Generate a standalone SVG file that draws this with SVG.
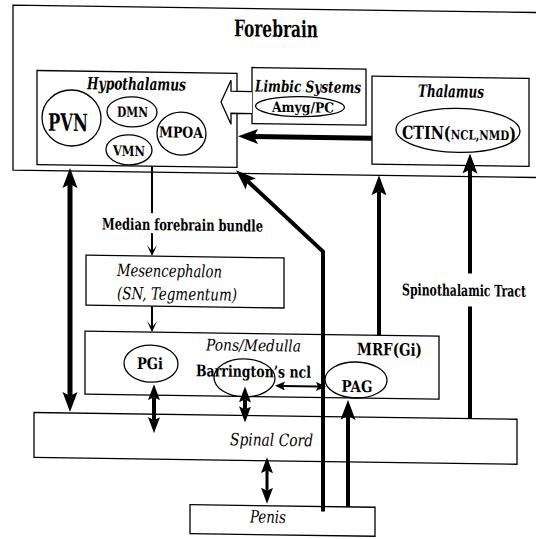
<svg xmlns="http://www.w3.org/2000/svg" width="536" height="539" viewBox="0 0 536 539">
<defs>
<style>
.box{fill:#fff;stroke:#000;stroke-width:1.3}
.ell{fill:none;stroke:#000;stroke-width:1.3}
.ln{fill:none;stroke:#000}
text{font-family:'DejaVu Serif Condensed','DejaVu Serif',serif;fill:#000;text-anchor:middle}
.b{font-weight:bold}
.bi{font-weight:bold;font-style:italic}
.i{font-style:italic}
</style>
<marker id="mA" markerUnits="userSpaceOnUse" viewBox="0 0 20 16" markerWidth="20" markerHeight="16" refX="4" refY="8" orient="auto-start-reverse"><path d="M0,0.5 L20,8 L0,15.5 L4,8 z"/></marker>
<marker id="mB" markerUnits="userSpaceOnUse" viewBox="0 0 16 13" markerWidth="16" markerHeight="13" refX="3" refY="6.5" orient="auto-start-reverse"><path d="M0,0.5 L16,6.5 L0,12.5 L3,6.5 z"/></marker>
<marker id="mC" markerUnits="userSpaceOnUse" viewBox="0 0 10 9" markerWidth="10" markerHeight="9" refX="2" refY="4.5" orient="auto-start-reverse"><path d="M0,0 L10,4.5 L0,9 L2,4.5 z"/></marker>
<marker id="mO" markerUnits="userSpaceOnUse" viewBox="0 0 11 10" markerWidth="11" markerHeight="10" refX="6" refY="5" orient="auto"><path d="M0,0 L11,5 L0,10 L6,5 z"/></marker>
</defs>
<rect width="536" height="539" fill="#fff"/>
<g transform="matrix(1,0.014,0,1,0,0)">
<g id="forebrain">
<path class="box" d="M540,5 H13 V170 H540"/>
<text class="b" x="276" y="33" font-size="23" textLength="84" lengthAdjust="spacingAndGlyphs">Forebrain</text>
</g>
<g id="hypothalamus">
<rect class="box" x="37" y="70" width="200" height="94"/>
<text class="bi" x="136.5" y="88" font-size="17" textLength="99" lengthAdjust="spacingAndGlyphs">Hypothalamus</text>
</g>
<g id="pvn">
<ellipse class="ell" cx="71.5" cy="117" rx="29.5" ry="28"/>
<text class="b" x="68" y="130" font-size="24" textLength="40" lengthAdjust="spacingAndGlyphs">PVN</text>
</g>
<g id="dmn">
<ellipse class="ell" cx="132" cy="110" rx="25" ry="15"/>
<text class="b" x="132.5" y="115" font-size="14" textLength="31" lengthAdjust="spacingAndGlyphs">DMN</text>
</g>
<g id="vmn">
<ellipse class="ell" cx="129" cy="148" rx="23" ry="15"/>
<text class="b" x="129" y="154" font-size="14" textLength="32" lengthAdjust="spacingAndGlyphs">VMN</text>
</g>
<g id="mpoa">
<ellipse class="ell" cx="181.5" cy="131" rx="24.5" ry="21.5"/>
<text class="b" x="181" y="135" font-size="15" textLength="44" lengthAdjust="spacingAndGlyphs">MPOA</text>
</g>
<g id="limbic">
<rect class="box" x="252" y="64" width="114" height="56"/>
<text class="bi" x="308" y="88" font-size="16" textLength="106" lengthAdjust="spacingAndGlyphs">Limbic Systems</text>
<ellipse class="ell" cx="300" cy="102.5" rx="44.5" ry="10"/>
<text class="b" x="303" y="108" font-size="14" textLength="62" lengthAdjust="spacingAndGlyphs">Amyg/PC</text>
</g>
<g id="thalamus">
<rect class="box" x="372" y="71" width="157" height="88"/>
<text class="bi" x="451" y="91" font-size="17" textLength="66" lengthAdjust="spacingAndGlyphs">Thalamus</text>
<ellipse class="ell" cx="458" cy="124" rx="62" ry="22"/>
<text class="b" transform="translate(459,133) scale(0.84,1)" x="0" y="0" textLength="136" lengthAdjust="spacingAndGlyphs"><tspan font-size="18">CTIN(</tspan><tspan font-size="13">NCL,NMD</tspan><tspan font-size="18">)</tspan></text>
</g>
<g id="mesencephalon">
<rect class="box" x="86" y="254" width="198" height="50"/>
<text class="i" x="169.5" y="274.5" font-size="17" textLength="105" lengthAdjust="spacingAndGlyphs">Mesencephalon</text>
<text class="i" x="177" y="297.5" font-size="17" textLength="120" lengthAdjust="spacingAndGlyphs">(SN, Tegmentum)</text>
</g>
<g id="pons">
<rect class="box" x="85" y="330" width="354" height="63"/>
<text class="i" x="253.5" y="347.5" font-size="16" textLength="95" lengthAdjust="spacingAndGlyphs">Pons/Medulla</text>
<text class="b" x="389.5" y="350" font-size="17" textLength="65" lengthAdjust="spacingAndGlyphs">MRF(Gi)</text>
</g>
<g id="pgi">
<ellipse class="ell" cx="151" cy="361.5" rx="27" ry="18.5"/>
<text class="b" x="150" y="367" font-size="16" textLength="26" lengthAdjust="spacingAndGlyphs">PGi</text>
</g>
<g id="barrington">
<ellipse class="ell" cx="244.5" cy="374.5" rx="30.5" ry="19"/>
<text class="b" x="253.5" y="373.5" font-size="16" textLength="115" lengthAdjust="spacingAndGlyphs">Barrington’s ncl</text>
</g>
<g id="pag">
<ellipse class="ell" cx="356" cy="375" rx="31" ry="18"/>
<text class="b" x="357" y="387" font-size="16" textLength="31" lengthAdjust="spacingAndGlyphs">PAG</text>
</g>
<g id="spinal">
<rect class="box" x="34" y="412" width="483" height="45"/>
<text class="i" x="271.5" y="442" font-size="17" textLength="83" lengthAdjust="spacingAndGlyphs">Spinal Cord</text>
</g>
<g id="penis">
<rect class="box" x="190" y="502" width="185" height="29"/>
<text class="i" x="268" y="519" font-size="17" textLength="36" lengthAdjust="spacingAndGlyphs">Penis</text>
</g>
<g id="connectors">
<path d="M252,88 H231 V77 L221,99 L231,121 V110 H252" fill="#fff" stroke="#000" stroke-width="1.3"/>
<line class="ln" x1="70" y1="183" x2="70" y2="395" stroke-width="5" marker-start="url(#mA)" marker-end="url(#mA)"/>
<line class="ln" x1="372" y1="133" x2="254" y2="133" stroke-width="5" marker-end="url(#mA)"/>
<line class="ln" x1="152" y1="164" x2="152" y2="211" stroke-width="2"/>
<line class="ln" x1="152" y1="231" x2="152" y2="249" stroke-width="2" marker-end="url(#mO)"/>
<line class="ln" x1="152" y1="304" x2="152" y2="325" stroke-width="2" marker-end="url(#mO)"/>
<path class="ln" d="M323,507 L323,247 L247.8,177.8" stroke-width="4" marker-end="url(#mA)"/>
<line class="ln" x1="379" y1="330" x2="379" y2="186" stroke-width="4" marker-end="url(#mA)"/>
<line class="ln" x1="470" y1="412" x2="470" y2="300" stroke-width="4"/>
<line class="ln" x1="470" y1="267" x2="470" y2="163" stroke-width="4" marker-end="url(#mA)"/>
<line class="ln" x1="154" y1="395" x2="154" y2="418" stroke-width="4" marker-start="url(#mB)" marker-end="url(#mB)"/>
<line class="ln" x1="245" y1="396" x2="245" y2="406" stroke-width="4" marker-start="url(#mB)" marker-end="url(#mB)"/>
<line class="ln" x1="283" y1="382" x2="318" y2="382" stroke-width="2" marker-start="url(#mC)" marker-end="url(#mC)"/>
<line class="ln" x1="267" y1="466.5" x2="267" y2="487" stroke-width="3" marker-start="url(#mB)" marker-end="url(#mB)"/>
<line class="ln" x1="348" y1="502" x2="348" y2="411" stroke-width="4" marker-end="url(#mA)"/>
</g>
<g id="labels">
<text class="b" transform="translate(464,289.5) scale(0.67,1)" x="0" y="0" font-size="16" textLength="185" lengthAdjust="spacingAndGlyphs">Spinothalamic Tract</text>
<text class="b" x="182.5" y="228" font-size="16" textLength="161" lengthAdjust="spacingAndGlyphs">Median forebrain bundle</text>
</g>
</g>
</svg>
